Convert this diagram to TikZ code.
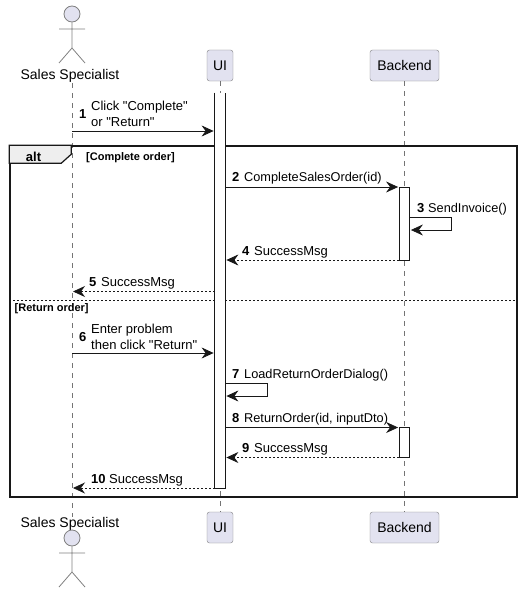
\documentclass[tikz,border=0pt]{standalone}
\usepackage{fontspec}
\setmainfont{Liberation Sans}[Ligatures=TeXOff]
\usetikzlibrary{arrows.meta}
\definecolor{boxfill}{HTML}{E2E2F0}
\definecolor{ink}{HTML}{181818}
\definecolor{tabfill}{HTML}{EEEEEE}
\tikzset{
  partbox/.style  = {shape=rectangle, rounded corners=2.5pt, draw=ink!55, fill=boxfill,
                     minimum height=31pt, inner sep=0pt, font=\fontsize{14}{16}\selectfont},
  actorname/.style = {anchor=base, inner sep=0pt, font=\fontsize{14}{16}\selectfont},
  lifeline/.style = {draw=ink!60, line width=0.5pt, dash pattern=on 5pt off 5pt},
  actbar/.style   = {shape=rectangle, draw=ink, fill=white, line width=0.8pt,
                     minimum width=10pt, inner sep=0pt},
  msg/.style      = {draw=ink, line width=0.8pt, -{Stealth[length=12pt,width=11pt,inset=4pt]}, shorten >=1pt},
  reply/.style    = {msg, dash pattern=on 2pt off 2pt},
  msgtext/.style  = {anchor=base west, inner sep=0pt, align=left, font=\fontsize{13}{16}\selectfont},
  msgtight/.style = {msgtext, font=\fontsize{12.75}{16}\selectfont},
  msgnum/.style   = {anchor=base west, inner sep=0pt, font=\fontsize{13}{16}\selectfont\bfseries},
  guard/.style    = {anchor=base west, inner sep=0pt, font=\fontsize{11}{13}\selectfont\bfseries},
  actor/.pic = {
    \node [circle, draw=ink!55, fill=boxfill, line width=0.8pt, minimum size=16pt, inner sep=0pt] (-head) at (0,0) {};
    \draw [draw=ink!55, line width=0.8pt] (-head.south) -- (0,34) (-13,15) -- (13,15) (-13,49) -- (0,34) -- (13,49);
  }
}
\begin{document}
\begin{tikzpicture}[x=1pt,y=-1pt]
  \useasboundingbox (0,0) rectangle (522,594);

  % participants
  \pic (specTopFig) at (72,14) {actor};
  \pic (specBotFig) at (72,538) {actor};
  \node [actorname] (specTop) at (70,80) {Sales Specialist};
  \node [actorname] (specBot) at (70,527) {Sales Specialist};
  \node [partbox, minimum width=26pt] (uiTop) at (220,65.5) {UI};
  \node [partbox, minimum width=26pt] (uiBot) at (220,527.5) {UI};
  \node [partbox, minimum width=69pt] (beTop) at (404.5,65.5) {Backend};
  \node [partbox, minimum width=69pt] (beBot) at (404.5,527.5) {Backend};

  \coordinate (specLine) at (72,0);
  \draw [lifeline] (specLine |- specTop.south) -- (specLine |- specBot.north);
  \draw [lifeline] (uiTop) -- (uiBot);
  \draw [lifeline] (beTop) -- (beBot);

  % alt frame
  \node [draw=ink, line width=1.5pt, minimum width=507pt, minimum height=351pt, inner sep=0pt] (altFrame) at (263.5,321.5) {};
  \draw [draw=ink, fill=tabfill, line width=1.2pt] (altFrame.north west) -- ++(62,0) -- ++(0,9) -- ++(-10,9) -- ++(-52,0) -- cycle;
  \node [anchor=base, inner sep=0pt, font=\fontsize{13}{16}\selectfont\bfseries] (altName) at (33.5,161) {alt};
  \node [guard] (guardA) at (86,160) {[Complete order]};
  \coordinate (sep) at (0,300);
  \draw [draw=ink, line width=0.8pt, dash pattern=on 2pt off 2pt] (altFrame.west |- sep) -- (altFrame.east |- sep);
  \node [guard] (guardB) at (14.5,311) {[Return order]};

  % activations
  \node [actbar, draw=none, minimum height=395pt] (uiBar) at (220,290.5) {};
  \draw [draw=ink, line width=0.8pt] (uiBar.north west) -- (uiBar.south west) -- (uiBar.south east) -- (uiBar.north east);
  \node [actbar, minimum height=73pt] (beBarA) at (404.5,223.5) {};
  \node [actbar, minimum height=30pt] (beBarB) at (404.5,442.5) {};

  % messages
  \coordinate (m1) at (0,131);
  \draw [msg] (specLine |- m1) -- (uiBar.west |- m1);
  \node [msgnum] (n1) at (79,118) {1};
  \node [msgtext] (t1) at (91,126) {Click "Complete"\\or "Return"};

  \coordinate (m2) at (0,187);
  \draw [msg] (uiBar.east |- m2) -- (beBarA.west |- m2);
  \node [msgnum] (n2) at (232,181.5) {2};
  \node [msgtight] (t2) at (244,181.5) {CompleteSalesOrder(id)};

  \coordinate (m3a) at (0,217);
  \coordinate (m3b) at (451,230);
  \draw [msg] (beBarA.east |- m3a) -- (m3b |- m3a) -- (m3b) -- (beBarA.east |- m3b);
  \node [msgnum] (n3) at (417,212.5) {3};
  \node [msgtight] (t3) at (428,212.5) {SendInvoice()};

  \coordinate (m4) at (0,260);
  \draw [reply] (beBarA.west |- m4) -- (uiBar.east |- m4);
  \node [msgnum] (n4) at (242,255.5) {4};
  \node [msgtext] (t4) at (254,255.5) {SuccessMsg};

  \coordinate (m5) at (0,291.5);
  \draw [reply] (uiBar.west |- m5) -- (specLine |- m5);
  \node [msgnum] (n5) at (89,286) {5};
  \node [msgtext] (t5) at (101,286) {SuccessMsg};

  \coordinate (m6) at (0,353);
  \draw [msg] (specLine |- m6) -- (uiBar.west |- m6);
  \node [msgnum] (n6) at (79,341) {6};
  \node [msgtext] (t6) at (91,349) {Enter problem\\then click "Return"};

  \coordinate (m7a) at (0,383);
  \coordinate (m7b) at (267,396);
  \draw [msg] (uiBar.east |- m7a) -- (m7b |- m7a) -- (m7b) -- (uiBar.east |- m7b);
  \node [msgnum] (n7) at (232,378) {7};
  \node [msgtight] (t7) at (244,378) {LoadReturnOrderDialog()};

  \coordinate (m8) at (0,427.5);
  \draw [msg] (uiBar.east |- m8) -- (beBarB.west |- m8);
  \node [msgnum] (n8) at (232,422) {8};
  \node [msgtight] (t8) at (244,422) {ReturnOrder(id, inputDto)};

  \coordinate (m9) at (0,457.5);
  \draw [reply] (beBarB.west |- m9) -- (uiBar.east |- m9);
  \node [msgnum] (n9) at (242,452.5) {9};
  \node [msgtext] (t9) at (254,452.5) {SuccessMsg};

  \coordinate (m10) at (0,488);
  \draw [reply] (uiBar.west |- m10) -- (specLine |- m10);
  \node [msgnum] (n10) at (91,483) {10};
  \node [msgtext] (t10) at (109,483) {SuccessMsg};
\end{tikzpicture}
\end{document}
